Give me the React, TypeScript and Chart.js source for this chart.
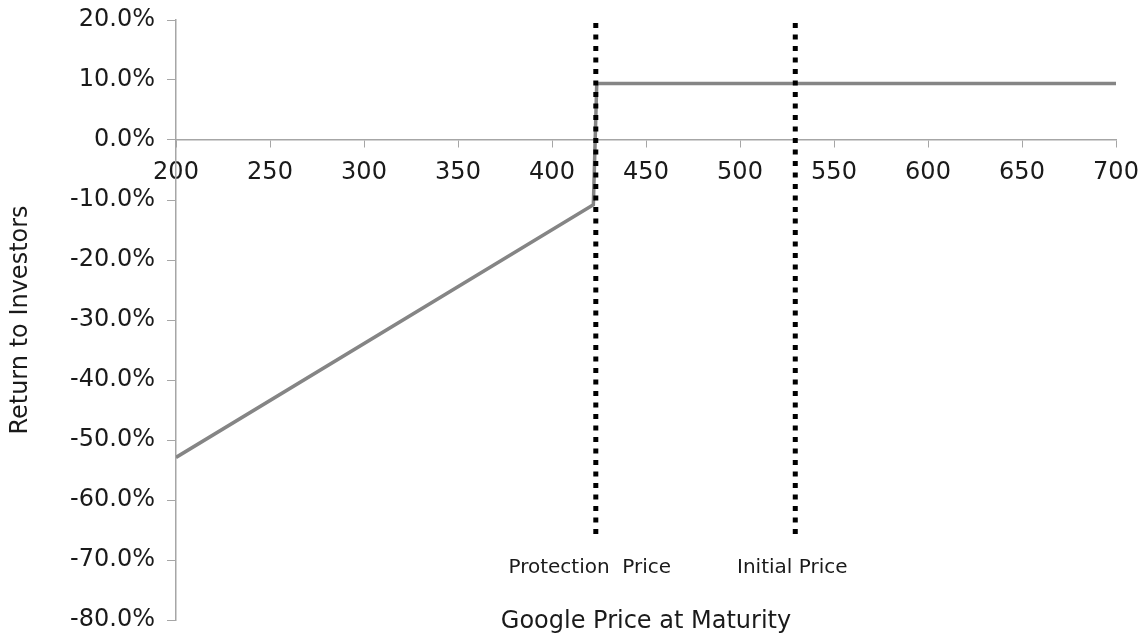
import React, { useEffect, useRef } from "react";
import { Chart, registerables } from "chart.js";

Chart.register(...registerables);

// Payoff series (Google price at maturity -> return to investors, %)
const payoffPrices = [200, 422, 423.8, 700];
const payoffReturns = [-52.9, -10.8, 9.4, 9.4];

// Reference levels
const protectionPrice = 423.3;
const initialPrice = 529.4;
const refLineTop = 19.5;
const refLineBottom = -66;

const protectionLabel = "Protection  Price";
const initialLabel = "Initial Price";
const xTitle = "Google Price at Maturity";
const yTitle = "Return to Investors";

const xMin = 200;
const xMax = 700;
const xStep = 50;
const yMin = -80;
const yMax = 20;
const yStep = 10;

const FONT = "'DejaVu Sans', Verdana, sans-serif";
const TEXT = "#1a1a1a";
const AXIS = "#a6a6a6";

export default function App() {
  const ref = useRef<HTMLCanvasElement | null>(null);

  useEffect(() => {
    if (!ref.current) return;
    const labelsPlugin = {
      id: "labelsPlugin",
      afterDraw(chart: any) {
        const ctx = chart.ctx;
        const xs = chart.scales.x;
        const area = chart.chartArea;
        ctx.save();
        ctx.fillStyle = TEXT;
        ctx.font = `20px ${FONT}`;
        ctx.textAlign = "center";
        ctx.textBaseline = "alphabetic";
        ctx.fillText(protectionLabel, xs.getPixelForValue(protectionPrice) - 6, 573);
        ctx.fillText(initialLabel, xs.getPixelForValue(initialPrice) - 3, 573);
        ctx.font = `24px ${FONT}`;
        ctx.fillText(xTitle, (area.left + area.right) / 2, 628);
        ctx.translate(27, (area.top + area.bottom) / 2);
        ctx.rotate(-Math.PI / 2);
        ctx.fillText(yTitle, 0, 0);
        ctx.restore();
      },
    };

    const chart = new Chart(ref.current, {
      type: "line",
      data: {
        datasets: [
          {
            label: "Return",
            data: payoffPrices.map((p, i) => ({ x: p, y: payoffReturns[i] })),
            borderColor: "#858585",
            borderWidth: 3.5,
            pointRadius: 0,
            tension: 0,
            order: 2,
          },
          {
            label: "Protection",
            data: [
              { x: protectionPrice, y: refLineTop },
              { x: protectionPrice, y: refLineBottom },
            ],
            borderColor: "#000000",
            borderWidth: 5,
            borderDash: [5, 6.5],
            borderCapStyle: "butt",
            pointRadius: 0,
            order: 1,
          },
          {
            label: "Initial",
            data: [
              { x: initialPrice, y: refLineTop },
              { x: initialPrice, y: refLineBottom },
            ],
            borderColor: "#000000",
            borderWidth: 5,
            borderDash: [5, 6.5],
            borderCapStyle: "butt",
            pointRadius: 0,
            order: 1,
          },
        ],
      },
      options: {
        animation: false,
        responsive: false,
        layout: { padding: { left: 0, right: 31, top: 20, bottom: 18 } },
        plugins: {
          legend: { display: false },
          tooltip: { enabled: false },
        },
        scales: {
          x: {
            type: "linear",
            position: { y: 0 } as any,
            min: xMin,
            max: xMax,
            afterFit: (scale: any) => {
              scale.paddingLeft = 0;
              scale.paddingRight = 0;
              scale.paddingTop = 0;
              scale.paddingBottom = 0;
            },
            ticks: {
              stepSize: xStep,
              autoSkip: false,
              maxRotation: 0,
              color: TEXT,
              padding: 11,
              font: { family: FONT, size: 24 },
            },
            grid: {
              drawOnChartArea: false,
              drawTicks: true,
              tickLength: 7,
              color: AXIS,
            },
            border: { color: AXIS, width: 1.5 },
          },
          y: {
            type: "linear",
            position: "left",
            min: yMin,
            max: yMax,
            afterFit: (scale: any) => {
              scale.width = 176;
              scale.paddingTop = 0;
              scale.paddingBottom = 0;
              scale.paddingLeft = 0;
              scale.paddingRight = 0;
            },
            ticks: {
              stepSize: yStep,
              color: TEXT,
              padding: 12,
              font: { family: FONT, size: 24 },
              callback: (v: any) => `${Number(v).toFixed(1)}%`,
            },
            grid: {
              drawOnChartArea: false,
              drawTicks: true,
              tickLength: 9,
              color: AXIS,
            },
            border: { color: AXIS, width: 1.5 },
          },
        },
      },
      plugins: [labelsPlugin],
    });
    return () => chart.destroy();
  }, []);

  return (
    <div style={{ position: "absolute", left: 0, top: 0, width: 1147, height: 638, background: "#fff" }}>
      <canvas ref={ref} width={1147} height={638} style={{ display: "block" }} />
    </div>
  );
}
